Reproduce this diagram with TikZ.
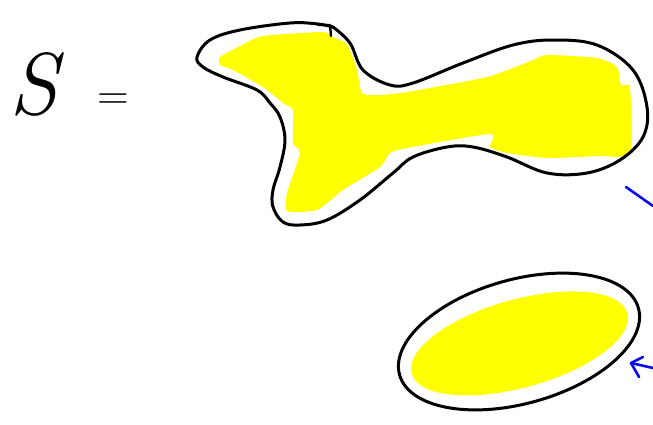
\documentclass[tikz,border=0pt]{standalone}
\usepackage{fontspec}
\usepackage{tikz}
\usetikzlibrary{arrows.meta,positioning}
\definecolor{markYellow}{RGB}{255,255,0}
\definecolor{penBlue}   {RGB}{10,  10, 235}
\tikzset{
  pen/.style={line width=3pt,line cap=round,line join=round},
  bluepen/.style={pen,penBlue,line width=2.6pt},
  marker/.style={fill=markYellow,draw=none},
}
\begin{document}
\begin{tikzpicture}[x=1pt,y=-1pt]
    \useasboundingbox (0,0) rectangle (653,424);

    % ── S = ──────────────────────────────────────────────
    \node[font=\fontsize{88}{88}\selectfont\itshape,inner sep=0pt] (setS) at (34,84) {S};
    \node[font=\fontsize{44}{44}\selectfont,inner sep=0pt] (eqsign) at (113,102) {=};

    % ── FIRST REGION (blob) ──────────────────────────────
    \fill[marker] plot[smooth cycle,tension=0.35] coordinates {
      (263,36) (323,32) (332,37) (347,44) (357,70) (362,93) (380,95) (407,92)
      (487,77) (533,60) (547,55) (597,58) (617,67) (621,85) (630,88) (630,153)
      (597,156) (547,158) (507,153) (490,147) (490,134) (407,148) (390,153)
      (380,167) (343,190) (317,210) (287,211) (287,193) (300,153) (293,143)
      (293,110) (283,103) (263,87) (233,70) (220,65) (220,57) (240,46)};
    \draw[pen] plot[smooth,tension=0.6] coordinates {
      (333,27) (350,43) (363,70) (390,85) (413,83) (463,63) (513,45) (553,40)
      (597,45) (633,70) (647,107) (643,137) (620,160) (587,173) (547,173)
      (507,157) (473,147) (447,147) (413,157) (393,173) (360,200) (327,220)
      (300,225) (283,222) (273,207) (273,190) (280,167) (285,140) (280,117)
      (270,103) (257,90) (223,77) (203,67) (197,57) (210,40) (240,30) (290,23)
      (318,24) (333,27)};
    \draw[pen,line width=2.4pt] (318,25) -- (330,25) -- (331,36);

    % ── SECOND REGION (ellipse) ──────────────────────────
    \begin{scope}[shift={(519,341.5)},rotate=15.6]
      \fill[marker] (0,2) ellipse [x radius=112, y radius=44];
      \draw[pen] (0,0) ellipse [x radius=124, y radius=62];
    \end{scope}
    \draw[pen,line width=2.4pt] (563,273) -- (571,273);

    % ── blue marks ───────────────────────────────────────
    \coordinate (tipA) at (626,187);
    \coordinate (endA) at (653,206);
    \draw[bluepen] (tipA) -- (endA);
    \coordinate (apex) at (631,363);
    \coordinate (armA) at (643,357);
    \coordinate (armB) at (639,377);
    \coordinate (tail) at (653,368);
    \draw[bluepen] (armA) -- (apex) -- (armB);
    \draw[bluepen] (apex) -- (tail);

\end{tikzpicture}
\end{document}
